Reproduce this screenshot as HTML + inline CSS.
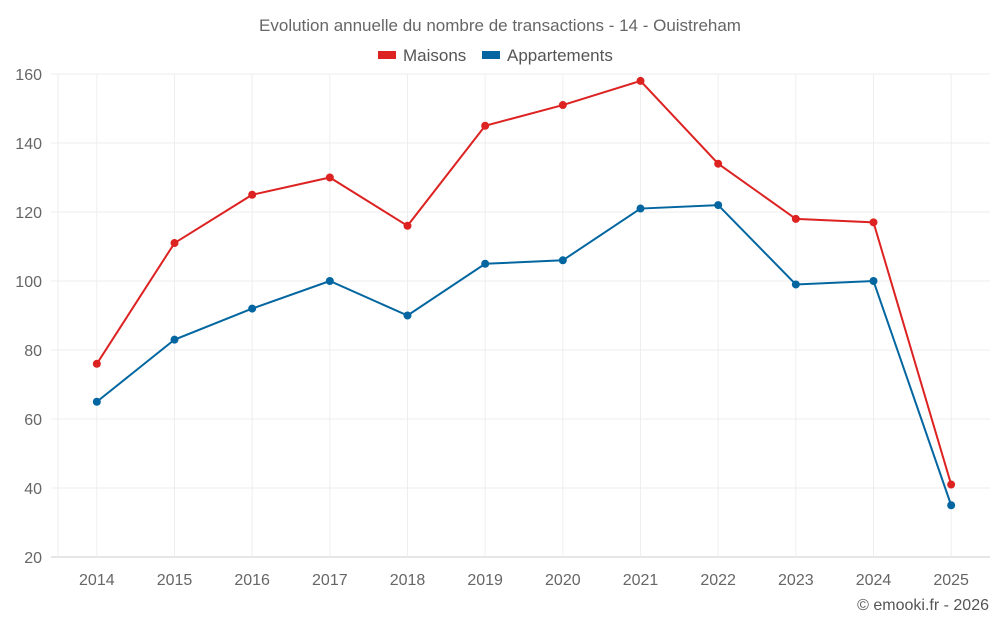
<!DOCTYPE html>
<html><head><meta charset="utf-8"><style>
body{margin:0;background:#fff;width:1000px;height:625px;overflow:hidden;font-family:"Liberation Sans",sans-serif}
</style></head><body>
<svg id="chart" width="1000" height="625" xmlns="http://www.w3.org/2000/svg" font-family="Liberation Sans, sans-serif">
<text x="500" y="31" text-anchor="middle" font-size="17" fill="#666">Evolution annuelle du nombre de transactions - 14 - Ouistreham</text>
<g>
<g><rect x="378" y="51" width="18" height="8" fill="#dd2222"/><text x="403" y="61" font-size="17" fill="#555">Maisons</text></g>
<g><rect x="482" y="51" width="18" height="8" fill="#0366a0"/><text x="507" y="61" font-size="17" fill="#555">Appartements</text></g>
</g>
<g id="grid"></g><g id="axes"></g><g id="series"></g>
<text x="989" y="610" text-anchor="end" font-size="16" fill="#555">© emooki.fr - 2026</text>
</svg>
<script>
const categories=["2014","2015","2016","2017","2018","2019","2020","2021","2022","2023","2024","2025"];
const maisons=[76,111,125,130,116,145,151,158,134,118,117,41];
const appartements=[65,83,92,100,90,105,106,121,122,99,100,35];
const yTicks=[20,40,60,80,100,120,140,160];
const NS="http://www.w3.org/2000/svg";
const L=58,R=990,T=74,B=557,ymin=20,ymax=160;
const bw=(R-L)/categories.length;
const x=i=>L+bw*(i+0.5);
const y=v=>B-(v-ymin)/(ymax-ymin)*(B-T);
function mk(tag,attrs,parent){const e=document.createElementNS(NS,tag);for(const k in attrs)e.setAttribute(k,attrs[k]);parent.appendChild(e);return e;}
const grid=document.getElementById('grid'),axes=document.getElementById('axes'),ser=document.getElementById('series');
yTicks.forEach(t=>{
 const l=mk('line',{x1:51,x2:R,y1:y(t),y2:y(t),stroke:t===ymin?'#ccc':'#eee'},grid);
 
 
 const tx=mk('text',{x:42,y:y(t)+6,'text-anchor':'end','font-size':16,fill:'#666'},axes);
 tx.textContent=t;
 
 
});
const lg=mk('line',{x1:L,x2:L,y1:T,y2:B,stroke:'#eee'},grid);


categories.forEach((c,i)=>{
 const l=mk('line',{x1:x(i),x2:x(i),y1:T,y2:B,stroke:'#eee'},grid);
 
 
 const tx=mk('text',{x:x(i),y:585,'text-anchor':'middle','font-size':16,fill:'#666'},axes);
 tx.textContent=c;
 
 
});
function draw(data,color,name){
 const p=mk('polyline',{points:data.map((v,i)=>x(i)+','+y(v)).join(' '),fill:'none',stroke:color,'stroke-width':2},ser);
 
 
 data.forEach((v,i)=>{
  const c=mk('circle',{cx:x(i),cy:y(v),r:4,fill:color},ser);
  
  
 });
}
draw(maisons,'#dd2222','maisons');
draw(appartements,'#0366a0','appartements');
</script>
</body></html>
